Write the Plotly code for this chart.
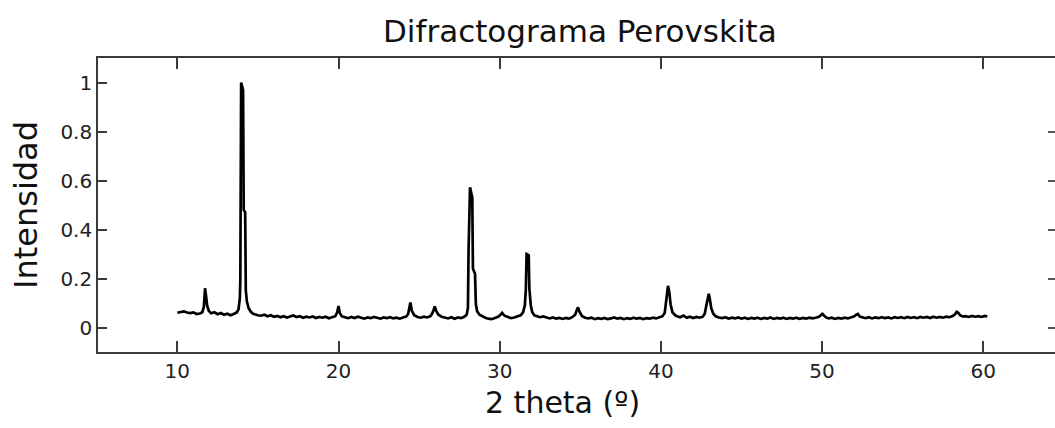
import plotly.graph_objects as go

# X-ray diffraction scan of the perovskite sample (normalised intensity)
two_theta = [
    10.0, 10.2, 10.4, 10.6, 10.8, 11.0, 11.2, 11.4,
    11.55, 11.65, 11.72, 11.78, 11.85, 11.95,
    12.1, 12.3, 12.5, 12.7, 12.9, 13.1, 13.3, 13.5, 13.7,
    13.80, 13.88, 13.91, 13.96, 14.08, 14.12, 14.21, 14.25, 14.32, 14.42, 14.55, 14.70,
    15.0, 15.2, 15.4, 15.6, 15.8, 16.0, 16.2, 16.4, 16.6, 16.8, 17.0, 17.2, 17.4,
    17.6, 17.8, 18.0, 18.2, 18.4, 18.6, 18.8, 19.0, 19.2, 19.4, 19.6, 19.8,
    19.92, 20.0, 20.08, 20.2,
    20.4, 20.6, 20.8, 21.0, 21.2, 21.4, 21.6, 21.8, 22.0, 22.2,
    22.4, 22.6, 22.8, 23.0, 23.2, 23.4, 23.6, 23.8, 24.0, 24.2,
    24.32, 24.40, 24.46, 24.55, 24.70,
    24.9, 25.1, 25.3, 25.5, 25.7,
    25.82, 25.90, 25.97, 26.06, 26.20,
    26.4, 26.6, 26.8, 27.0, 27.2, 27.4, 27.6, 27.8,
    27.95, 28.03, 28.07, 28.16, 28.30, 28.34, 28.47, 28.52, 28.60, 28.75, 28.90,
    29.1, 29.3, 29.5, 29.7, 29.9, 30.05, 30.15, 30.3, 30.5, 30.7, 30.9, 31.1, 31.3, 31.45,
    31.56, 31.62, 31.67, 31.80, 31.84, 31.93, 32.02, 32.15,
    32.3, 32.5, 32.7, 32.9, 33.1, 33.3, 33.5, 33.7, 33.9, 34.1, 34.3, 34.5,
    34.68, 34.78, 34.86, 34.95, 35.1,
    35.3, 35.5, 35.7, 35.9, 36.1, 36.3, 36.5, 36.7,
    36.9, 37.1, 37.3, 37.5, 37.7, 37.9, 38.1, 38.3,
    38.5, 38.7, 38.9, 39.1, 39.3, 39.5, 39.7, 39.9,
    40.1,
    40.24, 40.32, 40.38, 40.44, 40.52, 40.60, 40.72, 40.88,
    41.0, 41.2, 41.4, 41.6, 41.8, 42.0, 42.2, 42.4, 42.6, 42.72,
    42.82, 42.90, 42.97, 43.04, 43.12, 43.25, 43.40,
    43.6, 43.8, 44.0, 44.2, 44.4, 44.6, 44.8, 45.0,
    45.2, 45.4, 45.6, 45.8, 46.0, 46.2, 46.4, 46.6,
    46.8, 47.0, 47.2, 47.4, 47.6, 47.8, 48.0, 48.2,
    48.4, 48.6, 48.8, 49.0, 49.2, 49.4, 49.6, 49.8,
    49.92, 50.02, 50.12, 50.25,
    50.4, 50.6, 50.8, 51.0, 51.2, 51.4, 51.6, 51.8, 52.0,
    52.12, 52.22, 52.34,
    52.5, 52.7, 52.9, 53.1, 53.3, 53.5, 53.7, 53.9,
    54.1, 54.3, 54.5, 54.7, 54.9, 55.1, 55.3, 55.5,
    55.7, 55.9, 56.1, 56.3, 56.5, 56.7, 56.9, 57.1,
    57.3, 57.5, 57.7, 57.9, 58.1,
    58.25, 58.35, 58.45, 58.58, 58.72,
    58.9, 59.1, 59.3, 59.5, 59.7, 59.9, 60.1, 60.25,
]

intensity = [
    0.060, 0.064, 0.066, 0.061, 0.059, 0.062, 0.055, 0.057,
    0.062, 0.085, 0.160, 0.130, 0.090, 0.068,
    0.058, 0.062, 0.054, 0.059, 0.052, 0.056, 0.050, 0.055, 0.062,
    0.075, 0.120, 0.195, 1.000, 0.970, 0.480, 0.470, 0.150, 0.105, 0.080, 0.065, 0.056,
    0.050, 0.048, 0.052, 0.046, 0.050, 0.044, 0.047, 0.042, 0.046, 0.041, 0.045, 0.049, 0.043,
    0.046, 0.040, 0.044, 0.041, 0.045, 0.039, 0.043, 0.040, 0.044, 0.038, 0.042, 0.046,
    0.062, 0.088, 0.060, 0.046,
    0.042, 0.038, 0.043, 0.039, 0.044, 0.040, 0.036, 0.041, 0.038, 0.043,
    0.039, 0.036, 0.041, 0.038, 0.042, 0.037, 0.040, 0.036, 0.041, 0.045,
    0.055, 0.080, 0.102, 0.068, 0.050,
    0.043, 0.040, 0.044, 0.041, 0.046,
    0.058, 0.072, 0.086, 0.068, 0.052,
    0.044, 0.040, 0.037, 0.042, 0.036, 0.041, 0.038, 0.044,
    0.052, 0.080, 0.320, 0.572, 0.530, 0.240, 0.220, 0.095, 0.066, 0.052, 0.046,
    0.040, 0.036, 0.034, 0.039, 0.044, 0.052, 0.060, 0.048, 0.042, 0.038, 0.041, 0.045, 0.050, 0.062,
    0.090, 0.150, 0.300, 0.295, 0.160, 0.090, 0.062, 0.050,
    0.046, 0.042, 0.045, 0.040, 0.037, 0.041, 0.036, 0.039, 0.035, 0.039, 0.036, 0.042,
    0.052, 0.070, 0.082, 0.065, 0.047,
    0.040, 0.037, 0.040, 0.034, 0.038, 0.035, 0.039, 0.034,
    0.037, 0.041, 0.036, 0.039, 0.034, 0.038, 0.035, 0.040,
    0.036, 0.039, 0.034, 0.038, 0.036, 0.040, 0.037, 0.040,
    0.046,
    0.060, 0.100, 0.150, 0.170, 0.145, 0.095, 0.062, 0.050,
    0.046, 0.042, 0.049, 0.040, 0.044, 0.039, 0.043, 0.040, 0.044, 0.056,
    0.090, 0.125, 0.138, 0.115, 0.080, 0.056, 0.046,
    0.041, 0.038, 0.042, 0.036, 0.040, 0.037, 0.041, 0.036,
    0.040, 0.035, 0.039, 0.036, 0.040, 0.035, 0.039, 0.036,
    0.041, 0.035, 0.039, 0.036, 0.040, 0.035, 0.039, 0.036,
    0.040, 0.035, 0.039, 0.036, 0.040, 0.037, 0.040, 0.044,
    0.050, 0.056, 0.049, 0.041,
    0.037, 0.040, 0.035, 0.039, 0.036, 0.040, 0.037, 0.041, 0.046,
    0.052, 0.055, 0.045,
    0.041, 0.038, 0.042, 0.037, 0.041, 0.038, 0.042, 0.038,
    0.041, 0.037, 0.042, 0.039, 0.042, 0.038, 0.043, 0.039,
    0.042, 0.038, 0.043, 0.040, 0.043, 0.039, 0.044, 0.040,
    0.043, 0.040, 0.044, 0.042, 0.047,
    0.054, 0.064, 0.060, 0.049, 0.045,
    0.046, 0.043, 0.047, 0.044, 0.046, 0.043, 0.047, 0.045,
]

assert len(two_theta) == len(intensity)

x_ticks = [10, 20, 30, 40, 50, 60]
y_ticks = [0, 0.2, 0.4, 0.6, 0.8, 1]
y_tick_text = ["0", "0.2", "0.4", "0.6", "0.8", "1"]

title_text = "Difractograma Perovskita"
x_label = "2 theta (º)"
y_label = "Intensidad"

FONT = "DejaVu Sans"
W, H = 1055, 428
L, R, T, B = 98, 0, 58, 76
plot_w = W - L - R
plot_h = H - T - B


def px_to_paper_x(px):
    return (px - L) / plot_w


def px_to_paper_y(py):
    return (H - B - py) / plot_h


fig = go.Figure()
fig.add_trace(go.Scatter(
    x=two_theta, y=intensity, mode="lines",
    line=dict(color="#000000", width=2.7),
    showlegend=False, hoverinfo="x+y",
))

axis_line = "#3a3a3a"
fig.update_layout(
    width=W, height=H,
    margin=dict(l=L, r=R, t=T, b=B, pad=0),
    paper_bgcolor="white", plot_bgcolor="white",
    font=dict(family=FONT, color="#1a1a1a"),
    xaxis=dict(
        range=[5.08, 64.45], tickvals=x_ticks, ticktext=[str(v) for v in x_ticks],
        ticks="inside", ticklen=11, tickwidth=1.5, tickcolor=axis_line,
        showline=True, linecolor=axis_line, linewidth=1.6, mirror="ticks",
        showgrid=False, zeroline=False,
        tickfont=dict(family=FONT, size=20, color="#222222"),
    ),
    yaxis=dict(
        range=[-0.1, 1.1], tickvals=y_ticks, ticktext=y_tick_text,
        ticks="inside", ticklen=9, tickwidth=1.5, tickcolor=axis_line,
        showline=True, linecolor=axis_line, linewidth=1.6, mirror=False,
        showgrid=False, zeroline=False,
        tickfont=dict(family=FONT, size=20, color="#222222"),
    ),
    yaxis2=dict(
        overlaying="y", side="right", matches="y", range=[-0.1, 1.1],
        tickvals=y_ticks[:-1], ticks="inside", ticklen=7, tickwidth=1.5,
        tickcolor="#555555", showticklabels=False, showline=False,
        showgrid=False, zeroline=False,
    ),
    annotations=[
        dict(text=title_text, xref="paper", yref="paper",
             x=px_to_paper_x(580), y=px_to_paper_y(31),
             xanchor="center", yanchor="middle", showarrow=False,
             font=dict(family=FONT, size=31, color="#111111")),
        dict(text=x_label, xref="paper", yref="paper",
             x=px_to_paper_x(562), y=px_to_paper_y(402),
             xanchor="center", yanchor="middle", showarrow=False,
             font=dict(family=FONT, size=30, color="#111111")),
        dict(text=y_label, xref="paper", yref="paper",
             x=px_to_paper_x(26), y=0.5, textangle=-90,
             xanchor="center", yanchor="middle", showarrow=False,
             font=dict(family=FONT, size=32, color="#111111")),
    ],
)

# invisible companion trace so the right-hand tick axis is rendered
fig.add_trace(go.Scatter(x=[two_theta[0]], y=[intensity[0]], yaxis="y2",
                         mode="markers", marker=dict(opacity=0),
                         showlegend=False, hoverinfo="skip"))

fig.write_html("out.html")
